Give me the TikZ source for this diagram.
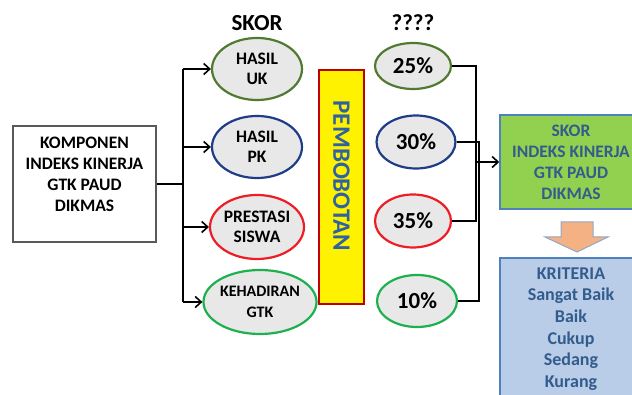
\documentclass[tikz,border=0pt]{standalone}
\usepackage{fontspec}
\setmainfont{Carlito}
\usetikzlibrary{arrows.meta,shapes.geometric}

\definecolor{olivegreen}{HTML}{4F7A30}
\definecolor{navyline}{HTML}{1F3C88}
\definecolor{redline}{HTML}{EE1C24}
\definecolor{brightgreen}{HTML}{1DB04E}
\definecolor{ovalfill}{HTML}{E8E8E8}
\definecolor{boxgray}{HTML}{595959}
\definecolor{weightred}{HTML}{C00000}
\definecolor{weighttext}{HTML}{2F62A0}
\definecolor{scorefill}{HTML}{92D050}
\definecolor{lightblueline}{HTML}{4F81BD}
\definecolor{darktext}{HTML}{335C8C}
\definecolor{critfill}{HTML}{B9CDE8}
\definecolor{arrowfill}{HTML}{F4B183}
\definecolor{arrowline}{HTML}{8FA8C8}

\tikzset{
  oval/.style={ellipse, draw, line width=2.2pt, fill=ovalfill, inner sep=0pt,
    align=center, font=\bfseries\fontsize{17.5}{20.5}\selectfont},
  pct/.style={ellipse, draw, line width=2.2pt, fill=ovalfill, inner sep=0pt,
    font=\bfseries\fontsize{23}{25}\selectfont},
  heading/.style={font=\bfseries\fontsize{23}{25}\selectfont},
  link/.style={line width=1.6pt, black},
  linkarrow/.style={link, -{Straight Barb[length=6pt,width=11pt,line width=1.6pt]}},
  bigtext/.style={align=center, font=\bfseries\fontsize{17.5}{21}\selectfont},
  critlines/.style={align=center, font=\bfseries\fontsize{18}{21.6}\selectfont},
}

\begin{document}
\begin{tikzpicture}[x=1pt,y=-1pt]
\useasboundingbox (0,0) rectangle (632,395);
\clip (0,0) rectangle (632,395);

% source box
\node[draw=boxgray, line width=1.2pt, minimum width=143pt, minimum height=116pt,
  inner sep=0pt] (L) at (84.5,184) {};
\node[bigtext] (Ltext) at (84.5,174) {KOMPONEN\\INDEKS KINERJA\\GTK PAUD\\DIKMAS};

% column headings
\node[heading] (hskor) at (257,23) {SKOR};
\node[heading] (hq) at (413,23) {????};

% score ovals
\node[oval, draw=olivegreen, minimum width=90pt, minimum height=62pt] (e1) at (257,69) {HASIL\\UK};
\node[oval, draw=navyline, minimum width=90pt, minimum height=62pt] (e2) at (257,147) {HASIL\\PK};
\node[oval, draw=redline, minimum width=90pt, minimum height=64pt] (e3) at (257,227) {PRESTASI\\SISWA};
\node[oval, draw=brightgreen, minimum width=95pt, minimum height=64pt,
  font=\bfseries\fontsize{16}{20.5}\selectfont] (e4) at (260,302) {KEHADIRAN\\GTK};

% weighting bar
\node[draw=weightred, fill=yellow, line width=2pt, minimum width=45pt,
  minimum height=234pt, inner sep=0pt] (W) at (341.5,187) {};
\node[rotate=-90, text=weighttext, font=\bfseries\fontsize{25}{27}\selectfont]
  (Wtext) at (341.5,176) {PEMBOBOTAN};

% weight ovals
\node[pct, draw=olivegreen, minimum width=76pt, minimum height=46pt] (p1) at (413,66) {25\%};
\node[pct, draw=navyline, minimum width=79pt, minimum height=53pt] (p2) at (416,142) {30\%};
\node[pct, draw=redline, minimum width=76pt, minimum height=53pt] (p3) at (413,221) {35\%};
\node[pct, draw=brightgreen, minimum width=80pt, minimum height=52pt] (p4) at (417,301) {10\%};

% result boxes
\node[draw=lightblueline, fill=scorefill, line width=1.5pt, minimum width=142pt,
  minimum height=94pt, inner sep=0pt, bigtext, text=darktext] (G) at (571,162)
  {SKOR\\INDEKS KINERJA\\GTK PAUD\\DIKMAS};
\node[draw=lightblueline, fill=critfill, line width=1.5pt, minimum width=142pt,
  minimum height=142pt, inner sep=0pt, critlines, text=darktext] (K) at (571,329)
  {KRITERIA\\Sangat Baik\\Baik\\Cukup\\Sedang\\Kurang};

% block arrow between the result boxes
\draw[fill=arrowfill, draw=arrowline, line width=1pt]
  (561,222) -- (593,222) -- (593,237) -- (608,237) -- (577,252)
  -- (545,237) -- (561,237) -- cycle;

% fan-out from the source box
\coordinate (split) at (183,184);
\draw[link] (L.east) -- (split);
\draw[link] (split |- e1.west) -- (split |- e4.west);
\foreach \e in {e1,e2,e3,e4}
  \draw[linkarrow] (split |- \e.west) -- (\e.west);

% fan-in to the score box
\coordinate (ra) at (476,0);
\coordinate (rb) at (479,0);
\draw[link] (p1.east) -| (ra |- p3.east) -- (p3.east);
\draw[link] (p2.east) -| (rb |- p4.east) -- (p4.east);
\draw[linkarrow] (ra |- G.west) -- (G.west);
\end{tikzpicture}
\end{document}
